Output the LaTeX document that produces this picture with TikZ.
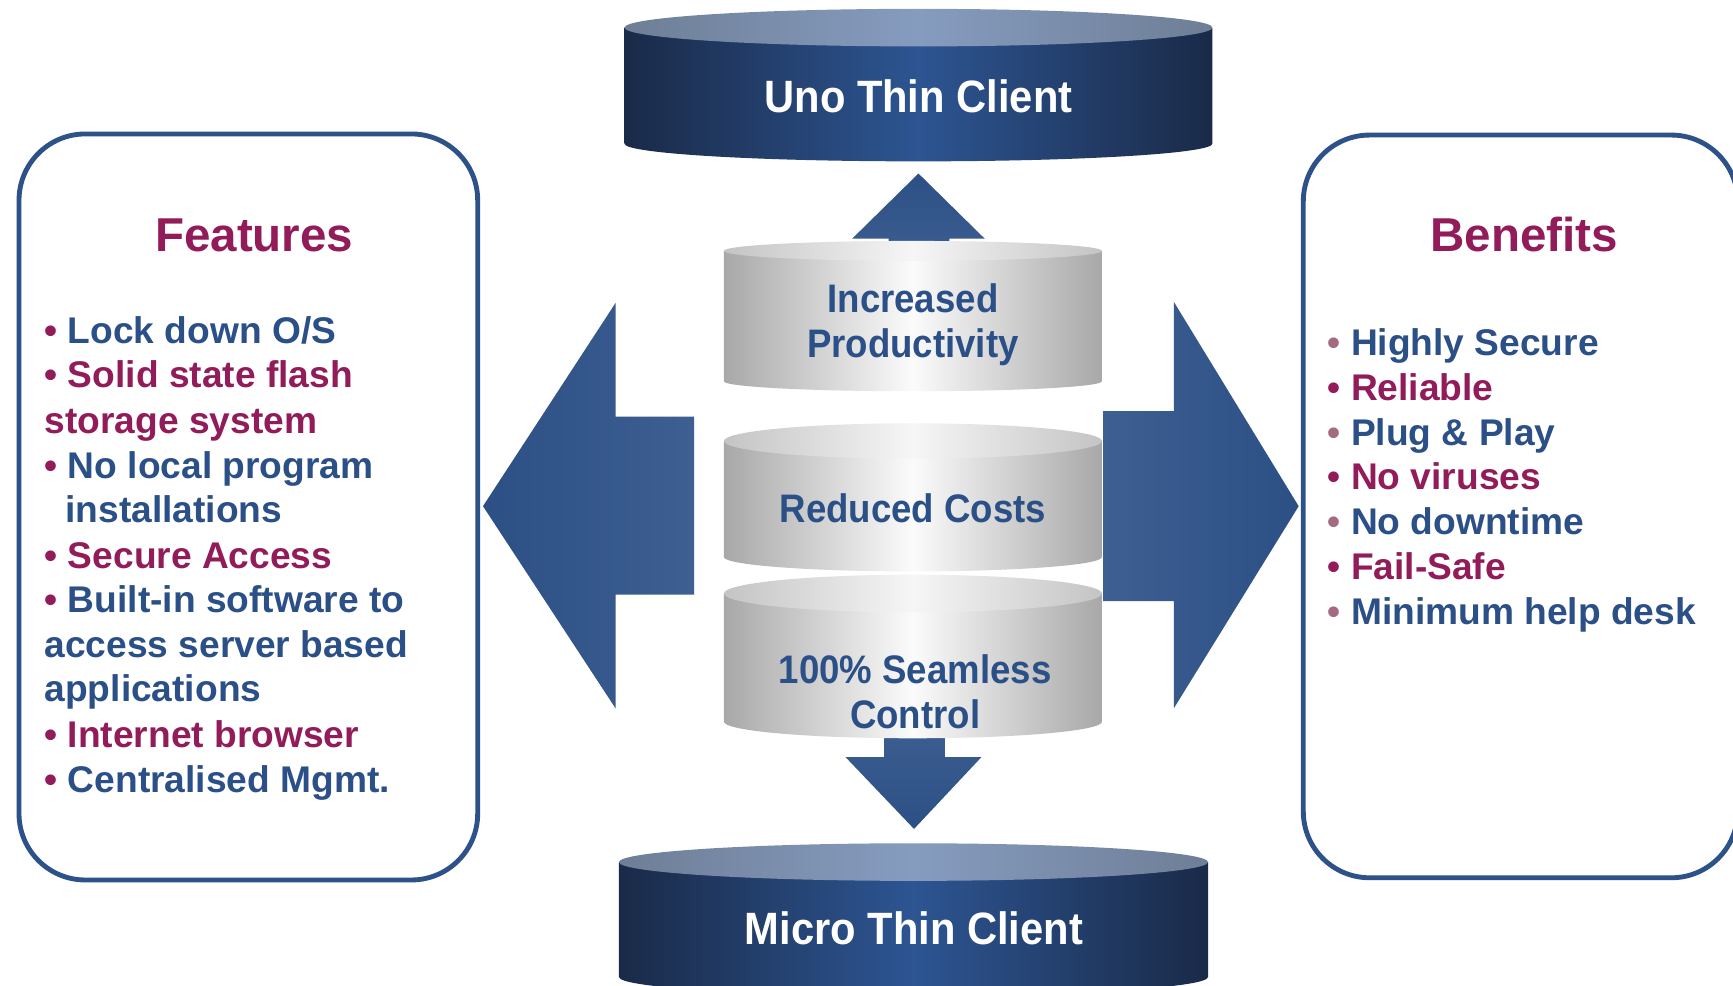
\documentclass[tikz,border=0pt]{standalone}
\usepackage{fontspec}
\setmainfont{Liberation Sans}
\newfontfamily\cylfont[FakeStretch=0.92]{Liberation Sans}
\definecolor{tblue}{HTML}{2B4F87}
\definecolor{tmag}{HTML}{921C5A}
\definecolor{bullgray}{HTML}{A46A82}
\definecolor{boxblue}{HTML}{2D5189}
\definecolor{arrdark}{HTML}{2C4F85}
\definecolor{arrlight}{HTML}{3D5F91}
\definecolor{navyedge}{HTML}{1A2A48}
\definecolor{navymid}{HTML}{2D5592}
\definecolor{capedge}{HTML}{6E7E96}
\definecolor{capmid}{HTML}{869CBF}
\definecolor{grayedge}{HTML}{A8A8A8}
\definecolor{graymid}{HTML}{FBFBFB}
\definecolor{gtopedge}{HTML}{C4C4C4}
\definecolor{gtopmid}{HTML}{F6F6F6}
\newcommand\mybul{\textcolor{tmag}{•}\ }
\newcommand\mygbul{\textcolor{bullgray}{•}\ }
% cx rx yt ryt yb ryb bodystyle topstyle
\newcommand\drawcyl[8]{%
  \shade[#7] (#1-#2,#3) -- (#1-#2,#5) arc[start angle=180, end angle=0, x radius=#2, y radius=#6] -- (#1+#2,#3) -- cycle;
  \shade[#8] (#1,#3) ellipse[x radius=#2, y radius=#4];
}
\tikzset{
  listtext/.style={anchor=base west, inner sep=0pt, font=\fontsize{16.8}{20}\selectfont\bfseries},
  heading/.style={anchor=base, inner sep=0pt, font=\fontsize{21.5}{24}\selectfont\bfseries, text=tmag},
  navylabel/.style={inner sep=0pt, font=\cylfont\fontsize{20.5}{24}\selectfont\bfseries, text=white},
  graylabel/.style={inner sep=0pt, align=center, font=\cylfont\fontsize{18}{20.5}\selectfont\bfseries, text=tblue},
  infobox/.style={draw=boxblue, line width=2.2pt, rounded corners=30pt, anchor=north west, inner sep=0pt},
  navybody/.style={left color=navyedge, right color=navyedge, middle color=navymid},
  navytop/.style={left color=capedge, right color=capedge, middle color=capmid},
  graybody/.style={left color=grayedge, right color=grayedge, middle color=graymid},
  graytop/.style={left color=gtopedge, right color=gtopedge, middle color=gtopmid},
}
\begin{document}
\begin{tikzpicture}[x=0.5pt,y=-0.5pt]
\useasboundingbox (0,0) rectangle (1568,892);
\clip (0,0) rectangle (1568,892);
\fill[white] (0,0) rectangle (1568,892);

% side boxes
\node[infobox, minimum width=207.5pt, minimum height=337.5pt] (featbox) at (15,119) {};
\node[infobox, minimum width=196.5pt, minimum height=336pt] (benbox) at (1177,120) {};

% big side arrows
\shade[left color=arrdark, right color=arrlight]
  (437,458) -- (557,274) -- (557,377) -- (628,377) -- (628,538) -- (557,538) -- (557,641) -- cycle;
\shade[left color=arrlight, right color=arrdark]
  (998,372) -- (1062,372) -- (1062,273) -- (1175,458) -- (1062,641) -- (1062,544) -- (998,544) -- cycle;

% up and down arrows
\shade[top color=arrdark, bottom color=arrlight]
  (804,240) -- (804,216) -- (771,216) -- (831,157) -- (891,216) -- (859,216) -- (859,240) -- cycle;
\shade[top color=arrlight, bottom color=arrdark]
  (800,650) -- (855,650) -- (855,685) -- (888,685) -- (827,750) -- (765,685) -- (800,685) -- cycle;

% gray cylinders
\drawcyl{826}{171}{227}{9}{345}{9}{graybody}{graytop}
\drawcyl{826}{171}{399}{16}{504}{13}{graybody}{graytop}
\drawcyl{826}{171}{537}{17}{653}{15}{graybody}{graytop}

% navy cylinders
\drawcyl{831}{266}{25}{17}{130}{16}{navybody}{navytop}
\drawcyl{826.5}{266.5}{780}{17}{884}{17}{navybody}{navytop}

% cylinder labels
\node[navylabel] (uno) at (831,87) {Uno Thin Client};
\node[navylabel] (micro) at (827,840) {Micro Thin Client};
\node[graylabel] (prod) at (826,294) {Increased\\Productivity};
\node[graylabel] (cost) at (826,460) {Reduced Costs};
\node[graylabel] (ctrl) at (828,626) {100\% Seamless\\Control};

% Features
\node[heading] (feath) at (230,228) {Features};
\node[listtext, text=tblue] (f1) at (40,311) {\mybul Lock down O/S};
\node[listtext, text=tmag] (f2) at (40,351) {\mybul Solid state flash};
\node[listtext, text=tmag] (f3) at (40,392) {storage system};
\node[listtext, text=tblue] (f4) at (40,433) {\mybul No local program};
\node[listtext, text=tblue] (f5) at (59,473) {installations};
\node[listtext, text=tmag] (f6) at (40,514) {\mybul Secure Access};
\node[listtext, text=tblue] (f7) at (40,554) {\mybul Built-in software to};
\node[listtext, text=tblue] (f8) at (40,595) {access server based};
\node[listtext, text=tblue] (f9) at (40,635) {applications};
\node[listtext, text=tmag] (f10) at (40,676) {\mybul Internet browser};
\node[listtext, text=tblue] (f11) at (40,717) {\mybul Centralised Mgmt.};

% Benefits
\node[heading] (benh) at (1379,228) {Benefits};
\node[listtext, text=tblue] (b1) at (1201,322) {\mygbul Highly Secure};
\node[listtext, text=tmag] (b2) at (1201,362) {\mybul Reliable};
\node[listtext, text=tblue] (b3) at (1201,403) {\mygbul Plug \& Play};
\node[listtext, text=tmag] (b4) at (1201,443) {\mybul No viruses};
\node[listtext, text=tblue] (b5) at (1201,484) {\mygbul No downtime};
\node[listtext, text=tmag] (b6) at (1201,524) {\mybul Fail-Safe};
\node[listtext, text=tblue] (b7) at (1201,565) {\mygbul Minimum help desk};
\end{tikzpicture}
\end{document}
